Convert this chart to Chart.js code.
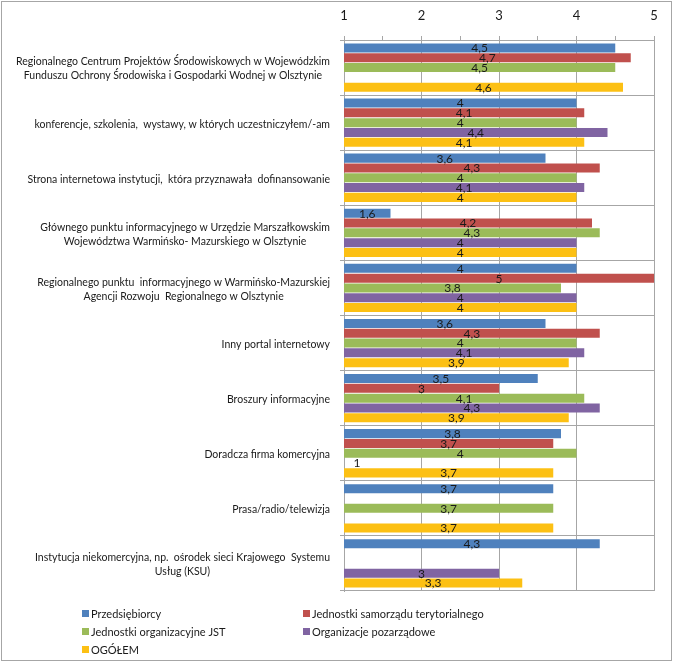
<!DOCTYPE html>
<html>
<head>
<meta charset="utf-8">
<script src="https://cdn.jsdelivr.net/npm/chart.js@4"></script>
<style>
  body { margin: 0; background: #fff; }
  #wrap { width: 673px; height: 663px; }
</style>
</head>
<body>
<div id="wrap"><canvas id="chart" width="673" height="663"></canvas></div>
<script>
"use strict";

var categories = [
    ['Regionalnego Centrum Projektów Środowiskowych w Wojewódzkim', 'Funduszu Ochrony Środowiska i Gospodarki Wodnej w Olsztynie'],
    ['konferencje, szkolenia,  wystawy, w których uczestniczyłem/-am'],
    ['Strona internetowa instytucji,  która przyznawała  dofinansowanie'],
    ['Głównego punktu informacyjnego w Urzędzie Marszałkowskim', 'Województwa Warmińsko- Mazurskiego w Olsztynie'],
    ['Regionalnego punktu  informacyjnego w Warmińsko-Mazurskiej', 'Agencji Rozwoju  Regionalnego w Olsztynie'],
    ['Inny portal internetowy'],
    ['Broszury informacyjne'],
    ['Doradcza firma komercyjna'],
    ['Prasa/radio/telewizja'],
    ['Instytucja niekomercyjna, np.  ośrodek sieci Krajowego  Systemu', 'Usług (KSU)']
];

var seriesNames = ['Przedsiębiorcy', 'Jednostki samorządu terytorialnego', 'Jednostki organizacyjne JST', 'Organizacje pozarządowe', 'OGÓŁEM'];
var seriesColors = ['#4f81bd', '#c0504d', '#9bbb59', '#8064a2', '#fcc014'];

var przedsiebiorcy = [4.5, 4, 3.6, 1.6, 4, 3.6, 3.5, 3.8, 3.7, 4.3];
var jst            = [4.7, 4.1, 4.3, 4.2, 5, 4.3, 3, 3.7, null, null];
var jednostkiOrg   = [4.5, 4, 4, 4.3, 3.8, 4, 4.1, 4, 3.7, null];
var organizacje    = [null, 4.4, 4.1, 4, 4, 4.1, 4.3, 1, null, 3];
var ogolem         = [4.6, 4.1, 4, 4, 4, 3.9, 3.9, 3.7, 3.7, 3.3];

var xTicks = [1, 2, 3, 4, 5];

var seriesValues = [przedsiebiorcy, jst, jednostkiOrg, organizacje, ogolem];
var gridColor = '#a6a6a6';
var fontFamily = 'Lato, "Open Sans", sans-serif';

var datasets = seriesNames.map((name, i) => ({
    label: name,
    data: seriesValues[i],
    backgroundColor: seriesColors[i],
    borderWidth: 0,
    categoryPercentage: 0.89,
    barPercentage: 0.92
}));

// value labels in the middle of the visible part of each bar
var valueLabels = {
    id: 'valueLabels',
    afterDatasetsDraw: (chart) => {
        var ctx = chart.ctx;
        var left = chart.chartArea.left;
        ctx.save();
        ctx.font = '12px ' + fontFamily;
        ctx.fillStyle = '#1a1a1a';
        ctx.textAlign = 'center';
        ctx.textBaseline = 'middle';
        chart.data.datasets.forEach((ds, di) => {
            var meta = chart.getDatasetMeta(di);
            meta.data.forEach((bar, i) => {
                var v = ds.data[i];
                if (v === null || v === undefined) return;
                var base = Math.max(bar.base, left);
                var x = (bar.x + base) / 2;
                if (bar.x - base < 2) x = base + 13;
                ctx.fillText(String(v).replace('.', ','), x, bar.y + 0.5);
            });
        });
        ctx.restore();
    }
};

// category labels: block right aligned, lines centred inside the block
var categoryLabels = {
    id: 'categoryLabels',
    afterDraw: (chart) => {
        var ctx = chart.ctx;
        var yScale = chart.scales.y;
        var right = 330, lineH = 14;
        ctx.save();
        ctx.font = '10.5px ' + fontFamily;
        ctx.fillStyle = '#1a1a1a';
        ctx.textAlign = 'center';
        ctx.textBaseline = 'middle';
        categories.forEach((lines, i) => {
            var w = Math.max(...lines.map(l => ctx.measureText(l).width));
            var cx = right - w / 2;
            var cy = yScale.getPixelForTick(i) - (lines.length - 1) * lineH / 2 + 1.5;
            lines.forEach((l, k) => ctx.fillText(l, cx, cy + k * lineH));
        });
        ctx.restore();
    }
};

// two column legend at the bottom and the outer frame
var bottomLegend = {
    id: 'bottomLegend',
    afterDraw: (chart) => {
        var ctx = chart.ctx;
        var cols = [82, 303], rows = [614, 632, 650];
        ctx.save();
        ctx.font = '11px ' + fontFamily;
        ctx.textBaseline = 'middle';
        chart.data.datasets.forEach((ds, i) => {
            var x = cols[i % 2], y = rows[Math.floor(i / 2)];
            ctx.fillStyle = ds.backgroundColor;
            ctx.fillRect(x, y - 4, 7, 7);
            ctx.fillStyle = '#1a1a1a';
            ctx.fillText(ds.label, x + 9, y);
        });
        ctx.strokeStyle = gridColor;
        ctx.lineWidth = 1;
        ctx.strokeRect(1.5, 1.5, 670, 659);
        ctx.restore();
    }
};

new Chart(document.getElementById('chart'), {
    type: 'bar',
    data: { labels: categories.map(c => c.join(' ')), datasets: datasets },
    plugins: [valueLabels, categoryLabels, bottomLegend],
    options: {
        indexAxis: 'y',
        responsive: false,
        animation: false,
        layout: { padding: { left: 0, right: 19, top: 0, bottom: 72 } },
        plugins: {
            legend: { display: false },
            tooltip: { enabled: false }
        },
        scales: {
            x: {
                position: 'top',
                min: xTicks[0],
                max: xTicks[xTicks.length - 1],
                afterFit: (s) => { s.height = 40; },
                afterBuildTicks: (s) => {
                    var t = [];
                    for (var v = xTicks[0]; v <= xTicks[xTicks.length - 1] + 1e-9; v += 0.5) t.push({ value: v });
                    s.ticks = t;
                },
                ticks: {
                    autoSkip: false,
                    maxRotation: 0,
                    padding: 12,
                    color: '#1a1a1a',
                    font: { family: fontFamily, size: 13 },
                    callback: (v) => xTicks.includes(v) ? String(v) : ''
                },
                grid: {
                    color: (c) => (c.tick && xTicks.includes(c.tick.value)) ? gridColor : 'rgba(0,0,0,0)',
                    tickColor: gridColor,
                    tickLength: 4,
                    lineWidth: 1
                },
                border: { color: gridColor }
            },
            y: {
                afterFit: (s) => { s.width = 344; },
                ticks: { display: false },
                grid: { color: gridColor, tickLength: 4, offset: true },
                border: { color: gridColor }
            }
        }
    }
});
</script>
</body>
</html>
